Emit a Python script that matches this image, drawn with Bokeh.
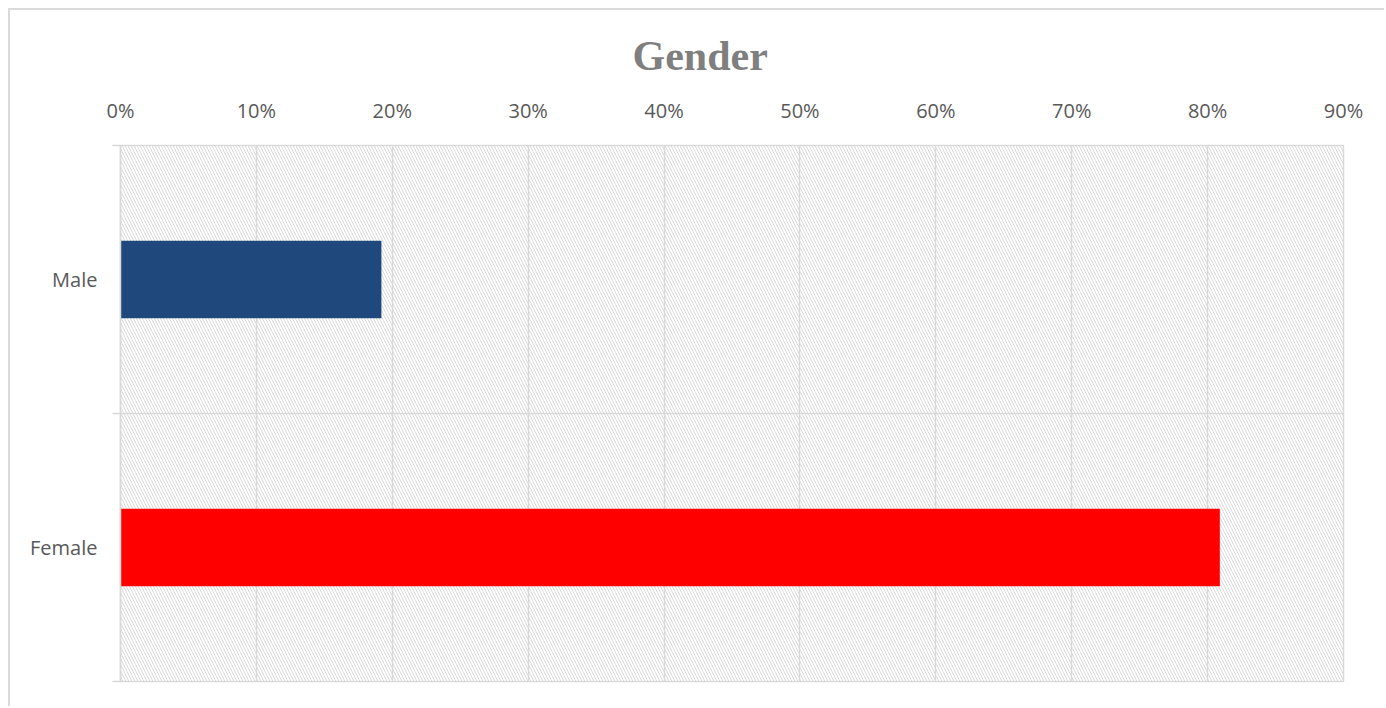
from bokeh.plotting import figure
from bokeh.models import (Range1d, FixedTicker, NumeralTickFormatter, BoxAnnotation, Title,
                          ColumnDataSource)
from bokeh.embed import file_html
from bokeh.resources import INLINE

# ---- data ----
categories = ["Male", "Female"]          # top to bottom
shares = [0.192, 0.809]
bar_colors = ["#1F497D", "#FF0000"]
x_ticks = [0.0, 0.1, 0.2, 0.3, 0.4, 0.5, 0.6, 0.7, 0.8, 0.9]
title_text = "Gender"

n = len(categories)
ypos = [n - 0.5 - i for i in range(n)]
src = ColumnDataSource(dict(cat=categories, y=ypos, v=shares, c=bar_colors))

GRID = "#D9D9D9"
LABEL = "#595959"

p = figure(width=1376, height=698, output_backend="svg", toolbar_location=None,
           x_range=Range1d(0, 0.9), y_range=Range1d(0, n),
           x_axis_location="above", title=None,
           min_border_left=110, min_border_top=135, min_border_right=43, min_border_bottom=27)
p.styles = {"margin-left": "8px", "margin-top": "8px",
            "border-left": "2px solid #D9D9D9", "border-top": "2px solid #D9D9D9"}

p.background_fill_color = "white"
p.border_fill_color = "white"
p.outline_line_color = GRID
p.outline_line_width = 1.5

# hatched plot area background
p.add_layout(BoxAnnotation(fill_alpha=0, line_alpha=0, hatch_pattern="\\",
                           hatch_color=GRID, hatch_scale=6, hatch_weight=1, level="underlay"))

p.hbar(y="y", right="v", left=0, height=0.29, color="c", line_color=None, source=src)

# x axis
xa = p.xaxis[0]
xa.ticker = FixedTicker(ticks=x_ticks)
xa.formatter = NumeralTickFormatter(format="0%")
xa.axis_line_color = GRID
xa.major_tick_out = 0
xa.major_tick_in = 0
xa.minor_tick_line_color = None
xa.major_label_standoff = 22
xa.major_label_text_font = "Open Sans"
xa.major_label_text_font_size = "20px"
xa.major_label_text_color = LABEL

# y axis
ya = p.yaxis[0]
ya.ticker = FixedTicker(ticks=ypos, minor_ticks=list(range(n + 1)))
ya.major_label_overrides = {y: c for y, c in zip(ypos, categories)}
ya.axis_line_color = GRID
ya.axis_line_width = 1.5
ya.major_tick_out = 0
ya.major_tick_in = 0
ya.minor_tick_out = 8
ya.minor_tick_in = 0
ya.minor_tick_line_color = GRID
ya.minor_tick_line_width = 1.5
ya.major_label_standoff = 15
ya.major_label_text_font = "Open Sans"
ya.major_label_text_font_size = "20px"
ya.major_label_text_color = LABEL

# grids
p.xgrid.ticker = FixedTicker(ticks=x_ticks)
p.xgrid.grid_line_color = GRID
p.xgrid.grid_line_width = 1.5
p.ygrid.ticker = FixedTicker(ticks=list(range(n + 1)))
p.ygrid.grid_line_color = GRID
p.ygrid.grid_line_width = 1.5

t = Title(text=title_text, align="left", text_font="Liberation Serif",
          text_font_style="bold", text_font_size="42px", text_color="#7F7F7F",
          offset=512, standoff=29)
p.add_layout(t, "above")

open("out.html", "w").write(file_html(p, INLINE))
